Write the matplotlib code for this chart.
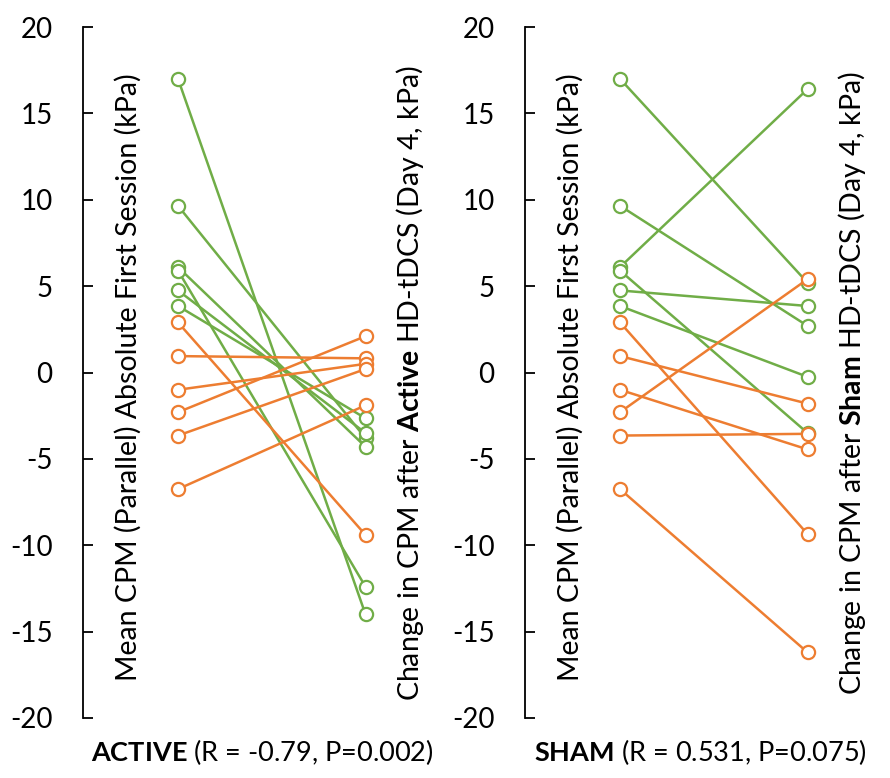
import numpy as np
import matplotlib
matplotlib.use("Agg")
import matplotlib.pyplot as plt

plt.rcParams['font.family'] = ['Lato', 'DejaVu Sans']
plt.rcParams['mathtext.fontset'] = 'custom'
plt.rcParams['mathtext.rm'] = 'Lato'
plt.rcParams['mathtext.bf'] = 'Lato:bold'

# baseline CPM (first session), same subjects in both panels
baseline = [17.0, 9.65, 6.1, 5.9, 4.75, 3.85, 2.9, 0.95, -1.0, -2.3, -3.65, -6.75]
# change after day 4
active_change = [-14.0, -3.8, -4.3, -12.4, -3.5, -2.65, -9.4, 0.82, 0.5, 2.1, 0.2, -1.9]
sham_change = [5.2, 2.7, 16.4, -3.5, 3.85, -0.25, -9.35, -1.8, -4.45, 5.4, -3.55, -16.2]
groups = ['g'] * 6 + ['o'] * 6
colors = {'g': '#70AD47', 'o': '#ED7D31'}

yticks = [-20, -15, -10, -5, 0, 5, 10, 15, 20]

W, H = 890, 778
fig = plt.figure(figsize=(W / 100, H / 100), dpi=100)

def make_panel(left_px, col0_px, change, cond, title_bold, title_rest, title_x):
    bottom = 1 - 718 / H
    height = (718 - 27) / H
    ax = fig.add_axes([left_px / W, bottom, 360 / W, height])
    scale = 187.5
    ax.set_xlim((left_px - col0_px) / scale, (left_px + 360 - col0_px) / scale)
    ax.set_ylim(-20, 20)
    for b, c, g in zip(baseline, change, groups):
        ax.plot([0, 1], [b, c], color=colors[g], lw=1.8, marker='o', ms=9.5,
                mfc='white', mec=colors[g], mew=1.6, zorder=3)
    for s in ['top', 'right', 'bottom']:
        ax.spines[s].set_visible(False)
    ax.spines['left'].set_linewidth(1.3)
    ax.set_yticks(yticks)
    ax.set_yticklabels([str(t) for t in yticks], fontsize=20)
    ax.tick_params(axis='y', direction='in', length=7, width=1.3, pad=22)
    ax.set_xticks([])
    ax.text(-0.265, -0.3, 'Mean CPM (Parallel) Absolute First Session (kPa)',
            rotation=90, ha='center', va='center', fontsize=20.5)
    ax.text(1.24, -0.6, 'Change in CPM after $\\bf{' + cond + '}$ HD-tDCS (Day 4, kPa)',
            rotation=90, ha='center', va='center', fontsize=20.5)
    fig.text(title_x / W, 1 - 752 / H, '$\\bf{' + title_bold + '}$' + title_rest,
             ha='center', va='center', fontsize=19.5)
    return ax

make_panel(83, 178, active_change, 'Active', 'ACTIVE', ' (R = -0.79, P=0.002)', 262)
make_panel(525, 620, sham_change, 'Sham', 'SHAM', ' (R = 0.531, P=0.075)', 700)

fig.savefig('out.png', dpi=100)
